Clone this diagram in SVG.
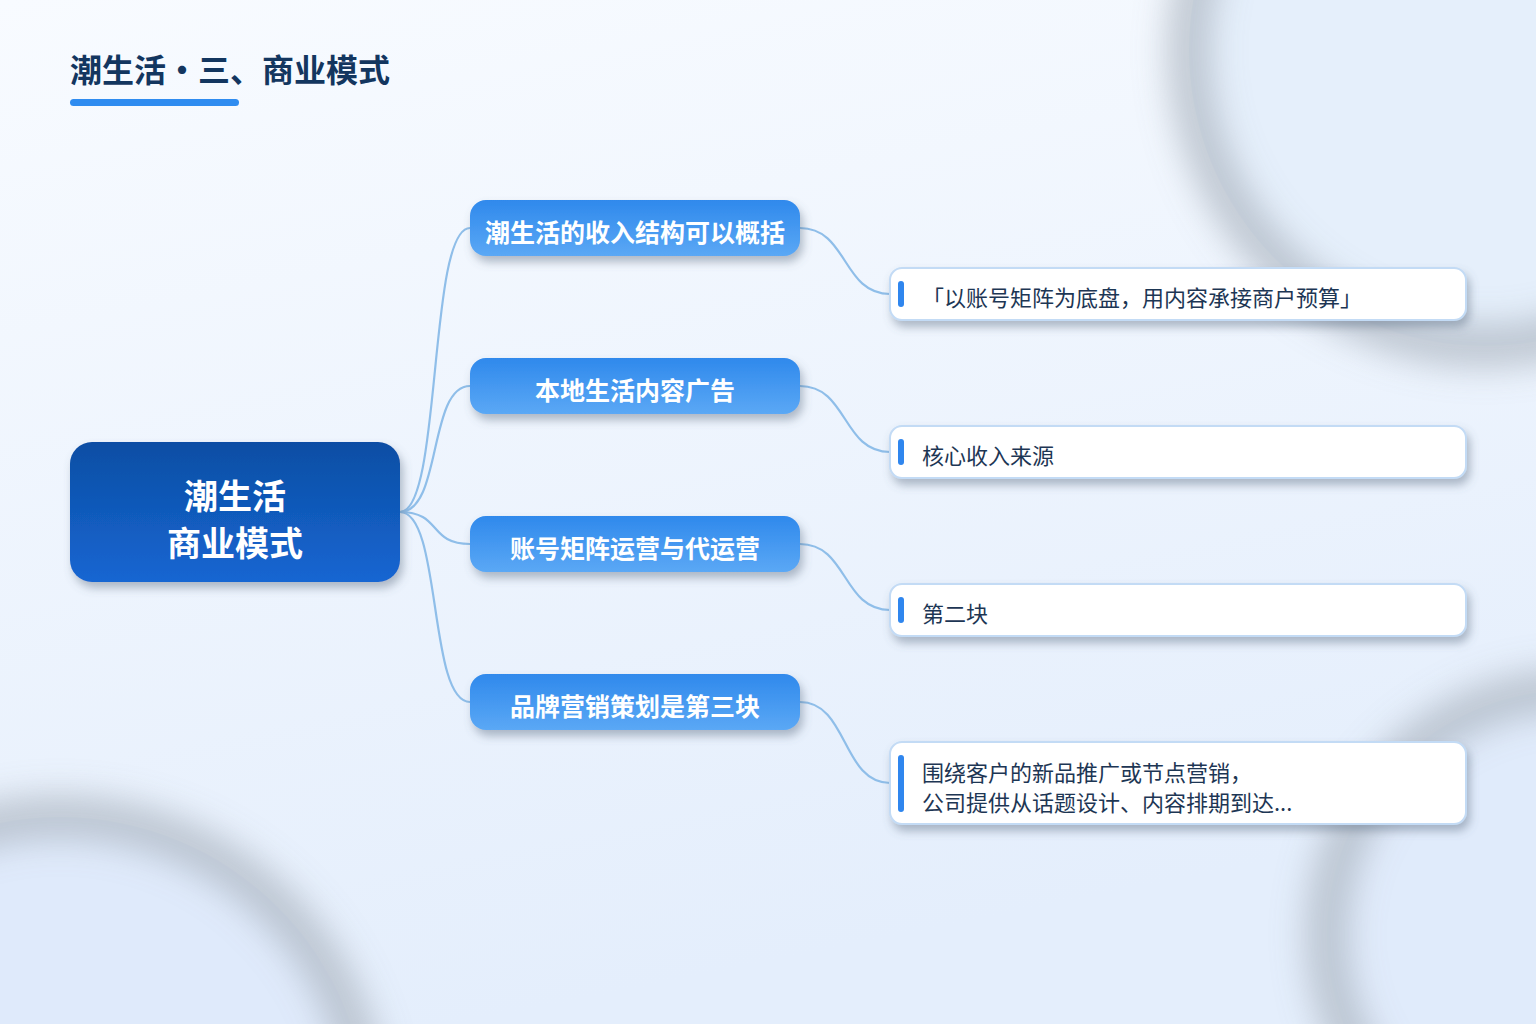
<svg xmlns="http://www.w3.org/2000/svg" width="1536" height="1024" viewBox="0 0 1536 1024">
  <defs>
    <linearGradient id="bg" x1="0" y1="0" x2="0.3" y2="1">
      <stop offset="0" stop-color="#f8fbff"/>
      <stop offset="1" stop-color="#e4eefc"/>
    </linearGradient>
    <linearGradient id="rootGrad" x1="0" y1="0" x2="0" y2="1">
      <stop offset="0" stop-color="#0c4ea4"/>
      <stop offset="1" stop-color="#1666d2"/>
    </linearGradient>
    <linearGradient id="branchGrad" x1="0" y1="0" x2="0" y2="1">
      <stop offset="0" stop-color="#2f89ec"/>
      <stop offset="1" stop-color="#5ba8f5"/>
    </linearGradient>
    <filter id="blur" x="-50%" y="-50%" width="200%" height="200%">
      <feGaussianBlur stdDeviation="18"/>
    </filter>
    <filter id="shadow" x="-10%" y="-30%" width="125%" height="170%">
      <feDropShadow dx="3" dy="6" stdDeviation="5" flood-color="#5a6a80" flood-opacity="0.45"/>
    </filter>
    <style>
      .title { font-family: "Noto Sans CJK SC", "Liberation Sans", sans-serif; font-weight: 700; font-size: 32px; fill: #13365f; }
      .rootText { font-family: "Noto Sans CJK SC", "Liberation Sans", sans-serif; font-weight: 700; font-size: 34px; fill: #ffffff; text-anchor: middle; }
      .branchText { font-family: "Noto Sans CJK SC", "Liberation Sans", sans-serif; font-weight: 700; font-size: 25px; fill: #ffffff; text-anchor: middle; }
      .leafText { font-family: "Noto Sans CJK SC", "Liberation Sans", sans-serif; font-weight: 400; font-size: 22px; fill: #1d3654; }
      .branch { fill: url(#branchGrad); filter: url(#shadow); }
      .leaf { fill: #ffffff; stroke: #c3dbf5; stroke-width: 2; filter: url(#shadow); }
      .accent { fill: #2f86ee; }
      .conn { fill: none; stroke: #8fbee9; stroke-width: 2.2; }
      .ring { fill: none; stroke: #aeb7c2; stroke-width: 38; filter: url(#blur); opacity: 0.85; }
    </style>
  </defs>

  <!-- background -->
  <rect x="0" y="0" width="1536" height="1024" fill="url(#bg)"/>
  <g id="decor">
    <circle cx="1485" cy="50" r="296" fill="#e5effb"/>
    <circle class="ring" cx="1485" cy="50" r="296"/>
    <circle cx="60" cy="1125" r="308" fill="#dfeafb"/>
    <circle class="ring" cx="60" cy="1125" r="308"/>
    <circle cx="1572" cy="935" r="245" fill="#e0ebfb"/>
    <circle class="ring" cx="1572" cy="935" r="245"/>
  </g>

  <!-- title -->
  <g id="title">
    <text class="title" x="70" y="82">潮生活・三、商业模式</text>
    <rect x="70" y="99" width="169" height="7" rx="3.5" fill="#2f8cf0"/>
  </g>

  <!-- connectors -->
  <g id="connectors">
    <path class="conn" d="M400,512 C442,512 428,228 470,228"/>
    <path class="conn" d="M400,512 C442,512 428,386 470,386"/>
    <path class="conn" d="M400,512 C442,512 428,544 470,544"/>
    <path class="conn" d="M400,512 C442,512 428,702 470,702"/>
    <path class="conn" d="M800,228 C848,228 842,294 890,294"/>
    <path class="conn" d="M800,386 C848,386 842,452 890,452"/>
    <path class="conn" d="M800,544 C848,544 842,610 890,610"/>
    <path class="conn" d="M800,702 C848,702 842,783 890,783"/>
  </g>

  <!-- root -->
  <g id="root">
    <rect x="70" y="442" width="330" height="140" rx="22" fill="url(#rootGrad)" filter="url(#shadow)"/>
    <text class="rootText" x="235" y="509">潮生活</text>
    <text class="rootText" x="235" y="556">商业模式</text>
  </g>

  <!-- branches -->
  <g id="branch1">
    <rect class="branch" x="470" y="200" width="330" height="56" rx="16"/>
    <text class="branchText" x="635" y="242">潮生活的收入结构可以概括</text>
  </g>
  <g id="branch2">
    <rect class="branch" x="470" y="358" width="330" height="56" rx="16"/>
    <text class="branchText" x="635" y="400">本地生活内容广告</text>
  </g>
  <g id="branch3">
    <rect class="branch" x="470" y="516" width="330" height="56" rx="16"/>
    <text class="branchText" x="635" y="558">账号矩阵运营与代运营</text>
  </g>
  <g id="branch4">
    <rect class="branch" x="470" y="674" width="330" height="56" rx="16"/>
    <text class="branchText" x="635" y="716">品牌营销策划是第三块</text>
  </g>

  <!-- leaves -->
  <g id="leaf1">
    <rect class="leaf" x="890" y="268" width="576" height="52" rx="12"/>
    <rect class="accent" x="898" y="281" width="6" height="26" rx="3"/>
    <text class="leafText" x="922" y="306">「以账号矩阵为底盘，用内容承接商户预算」</text>
  </g>
  <g id="leaf2">
    <rect class="leaf" x="890" y="426" width="576" height="52" rx="12"/>
    <rect class="accent" x="898" y="439" width="6" height="26" rx="3"/>
    <text class="leafText" x="922" y="464">核心收入来源</text>
  </g>
  <g id="leaf3">
    <rect class="leaf" x="890" y="584" width="576" height="52" rx="12"/>
    <rect class="accent" x="898" y="597" width="6" height="26" rx="3"/>
    <text class="leafText" x="922" y="622">第二块</text>
  </g>
  <g id="leaf4">
    <rect class="leaf" x="890" y="742" width="576" height="82" rx="12"/>
    <rect class="accent" x="898" y="755" width="6" height="57" rx="3"/>
    <text class="leafText" x="922" y="781">围绕客户的新品推广或节点营销，</text>
    <text class="leafText" x="922" y="811">公司提供从话题设计、内容排期到达...</text>
  </g>
</svg>
